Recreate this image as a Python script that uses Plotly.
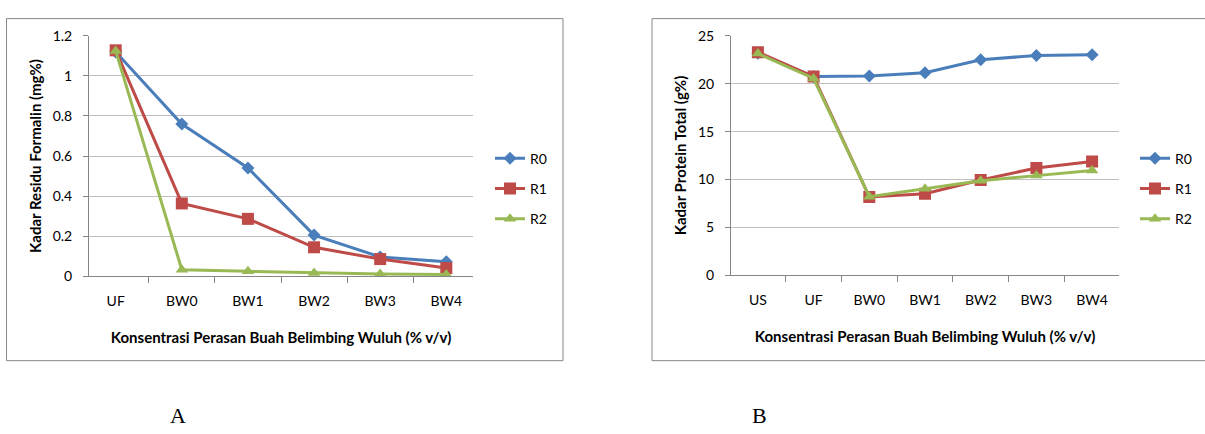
import plotly.graph_objects as go

W, H = 1205, 434

# ---- Data: chart A (formalin residue) ----
cats_a = ["UF", "BW0", "BW1", "BW2", "BW3", "BW4"]
a_r0 = [1.12, 0.76, 0.54, 0.205, 0.096, 0.072]
a_r1 = [1.128, 0.363, 0.286, 0.144, 0.085, 0.04]
a_r2 = [1.125, 0.032, 0.024, 0.016, 0.011, 0.008]

# ---- Data: chart B (total protein) ----
cats_b = ["US", "UF", "BW0", "BW1", "BW2", "BW3", "BW4"]
b_r0 = [23.2, 20.75, 20.8, 21.15, 22.5, 22.96, 23.03]
b_r1 = [23.3, 20.75, 8.17, 8.5, 9.94, 11.2, 11.88]
b_r2 = [23.16, 20.55, 8.2, 9.04, 9.87, 10.4, 10.94]

series_names = ["R0", "R1", "R2"]
colors = ["#4A7EBB", "#BE4B48", "#98B954"]
symbols = ["diamond", "square", "triangle-up"]
msizes = [10, 12, 11]

FONT = "Lato"

def px_x(p):
    return p / W

def px_y(p):
    return 1 - p / H

fig = go.Figure()

for i, (name, ys) in enumerate(zip(series_names, [a_r0, a_r1, a_r2])):
    fig.add_trace(go.Scatter(
        x=cats_a, y=ys, name=name, mode="lines+markers",
        line=dict(color=colors[i], width=3),
        marker=dict(symbol=symbols[i], size=msizes[i], color=colors[i]),
        xaxis="x", yaxis="y", legend="legend", legendgroup="a" + name,
    ))

for i, (name, ys) in enumerate(zip(series_names, [b_r0, b_r1, b_r2])):
    fig.add_trace(go.Scatter(
        x=cats_b, y=ys, name=name, mode="lines+markers",
        line=dict(color=colors[i], width=3),
        marker=dict(symbol=symbols[i], size=msizes[i], color=colors[i]),
        xaxis="x2", yaxis="y2", legend="legend2", legendgroup="b" + name,
    ))

axis_common_x = dict(
    type="category", showgrid=False, showline=True, linecolor="#868686",
    linewidth=1, ticks="outside", tickson="boundaries", ticklen=6,
    tickcolor="#868686", tickfont=dict(family=FONT, size=14, color="#000"),
    ticklabelstandoff=12, zeroline=False, fixedrange=True,
)
axis_common_y = dict(
    showgrid=True, gridcolor="#BFBFBF", gridwidth=1, showline=True,
    linecolor="#868686", linewidth=1, ticks="outside", ticklen=5,
    tickcolor="#868686", tickfont=dict(family=FONT, size=14, color="#000"),
    ticklabelstandoff=8, zeroline=False, fixedrange=True,
)

title_font = dict(family=FONT, size=15, color="#000", weight="bold")
legend_font = dict(family=FONT, size=14, color="#000")
x_title = "Konsentrasi Perasan Buah Belimbing Wuluh (% v/v)"

fig.update_layout(
    width=W, height=H,
    margin=dict(l=0, r=0, t=0, b=0),
    paper_bgcolor="white", plot_bgcolor="white",
    showlegend=True,
    xaxis=dict(axis_common_x, domain=[px_x(89), px_x(473)], anchor="y",
               title=dict(text=x_title, font=title_font, standoff=24)),
    yaxis=dict(axis_common_y, domain=[px_y(278), px_y(28)], anchor="x",
               range=[0, 1.2], dtick=0.2, tickformat="~g",
               title=dict(text="Kadar Residu Formalin (mg%)", font=title_font, standoff=7)),
    xaxis2=dict(axis_common_x, domain=[px_x(731), px_x(1119)], anchor="y2",
                title=dict(text=x_title, font=title_font, standoff=24)),
    yaxis2=dict(axis_common_y, domain=[px_y(277), px_y(28)], anchor="x2",
                range=[0, 25], dtick=5,
                title=dict(text="Kadar Protein Total (g%)", font=title_font, standoff=7)),
    legend=dict(x=px_x(490), y=px_y(187), xanchor="left", yanchor="middle",
                traceorder="grouped", tracegroupgap=9,
                font=legend_font, bgcolor="rgba(0,0,0,0)", itemwidth=30),
    legend2=dict(x=px_x(1135), y=px_y(187), xanchor="left", yanchor="middle",
                 traceorder="grouped", tracegroupgap=9,
                 font=legend_font, bgcolor="rgba(0,0,0,0)", itemwidth=30),
    shapes=[
        dict(type="rect", xref="paper", yref="paper",
             x0=px_x(6.5), x1=px_x(563), y0=px_y(366), y1=px_y(10),
             line=dict(color="#888888", width=1)),
        dict(type="rect", xref="paper", yref="paper",
             x0=px_x(652), x1=px_x(1215), y0=px_y(366), y1=px_y(10),
             line=dict(color="#888888", width=1)),
    ],
    annotations=[
        dict(text="A", x=px_x(178), y=px_y(423), xref="paper", yref="paper",
             xanchor="center", yanchor="middle", showarrow=False,
             font=dict(family="Liberation Serif", size=22, color="#000")),
        dict(text="B", x=px_x(759), y=px_y(423), xref="paper", yref="paper",
             xanchor="center", yanchor="middle", showarrow=False,
             font=dict(family="Liberation Serif", size=22, color="#000")),
    ],
)

fig.write_html(
    "out.html",
    config={"displayModeBar": False, "staticPlot": True},
    post_script="document.body.style.margin='0';document.body.style.overflow='hidden';",
)
